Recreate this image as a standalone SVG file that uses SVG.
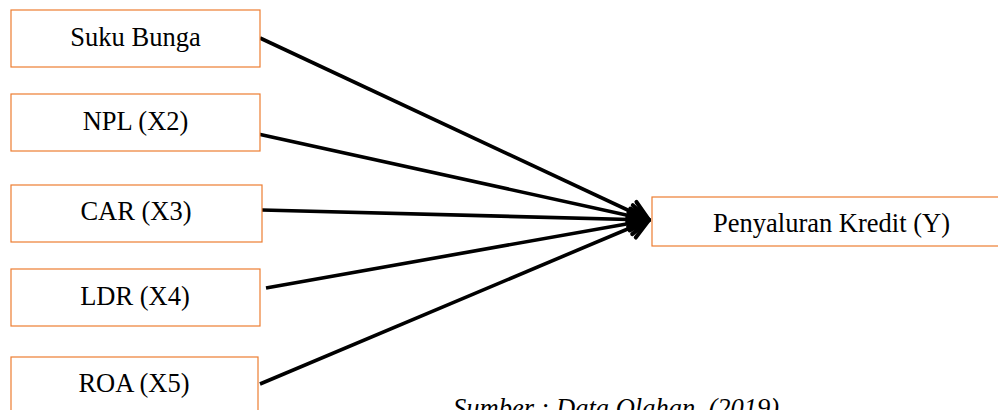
<svg xmlns="http://www.w3.org/2000/svg" width="998" height="410" viewBox="0 0 998 410">
<style>
.box{fill:#fff;stroke:#ED7D31;stroke-width:1.2}
.lbl{font-family:"Liberation Serif","Times New Roman",serif;font-size:26.5px;fill:#000;text-anchor:middle}
.cap{font-family:"Liberation Serif","Times New Roman",serif;font-size:26.5px;font-style:italic;fill:#000}
.conn{stroke:#000;stroke-width:3.6;fill:none;marker-end:url(#arr)}
</style>
<defs>
<marker id="arr" markerUnits="userSpaceOnUse" viewBox="-24 -14 28 28" refX="0" refY="0" markerWidth="28" markerHeight="28" orient="auto" overflow="visible">
<path d="M-19,-11 L0,0 L-19,11" fill="none" stroke="#000" stroke-width="4" stroke-linejoin="round" stroke-linecap="round"/>
</marker>
</defs>
<rect width="998" height="410" fill="#fff"/>
<g id="connectors">
<line class="conn" x1="260" y1="38" x2="649" y2="220"/>
<line class="conn" x1="258" y1="134" x2="649" y2="220"/>
<line class="conn" x1="262" y1="210" x2="649" y2="220"/>
<line class="conn" x1="266" y1="288" x2="649" y2="220"/>
<line class="conn" x1="260" y1="384" x2="649" y2="220"/>
</g>
<g id="suku-bunga"><rect class="box" x="11" y="10" width="249" height="57"/><text class="lbl" x="135.5" y="45.5">Suku Bunga</text></g>
<g id="npl"><rect class="box" x="11" y="94" width="249" height="57"/><text class="lbl" x="135.5" y="130">NPL (X2)</text></g>
<g id="car"><rect class="box" x="11" y="185" width="251" height="57"/><text class="lbl" x="136" y="220">CAR (X3)</text></g>
<g id="ldr"><rect class="box" x="11" y="269" width="249" height="57"/><text class="lbl" x="135" y="305">LDR (X4)</text></g>
<g id="roa"><rect class="box" x="11" y="357" width="247" height="60"/><text class="lbl" x="134" y="392">ROA (X5)</text></g>
<g id="penyaluran"><rect class="box" x="652" y="197" width="360" height="49"/><text class="lbl" x="831.5" y="232">Penyaluran Kredit (Y)</text></g>
<text class="cap" x="453" y="417">Sumber : Data Olahan, (2019)</text>
</svg>
